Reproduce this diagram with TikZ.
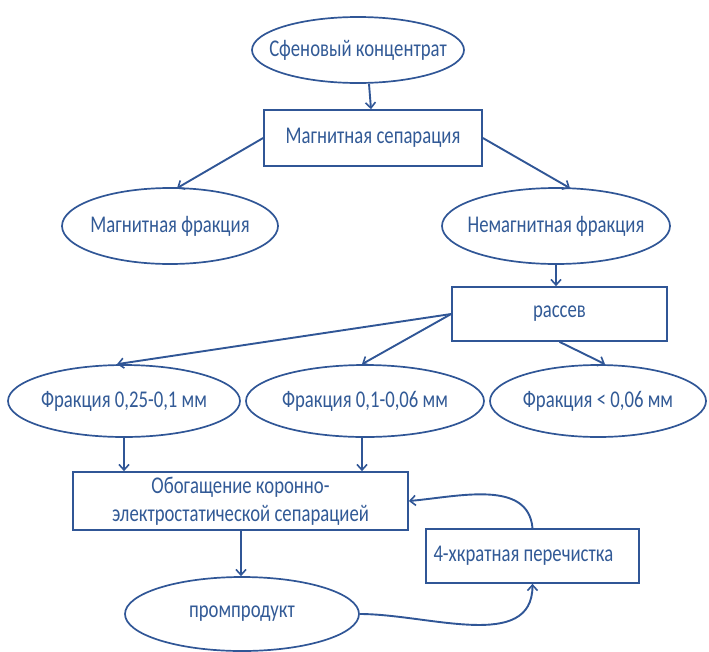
\documentclass[tikz,border=0pt]{standalone}
\usepackage{fontspec}
\setmainfont{Carlito}[FakeStretch=0.78]
\usetikzlibrary{shapes.geometric,arrows.meta,calc}
\definecolor{lineblue}{RGB}{48,86,150}
\definecolor{textblue}{RGB}{50,90,150}
\newcommand{\ctext}[1]{\makebox[0pt][c]{#1}}
\begin{document}
\begin{tikzpicture}[x=1pt,y=-1pt,
  every node/.style={font=\fontsize{24}{28}\selectfont, text=textblue, inner sep=0pt},
  ell/.style={ellipse, draw=lineblue, line width=1.7pt},
  boxn/.style={rectangle, draw=lineblue, line width=1.7pt},
  conn/.style={draw=lineblue, line width=1.9pt, -{Straight Barb[length=5.5pt,width=10pt,line width=1.6pt]}}]
\useasboundingbox (0,0) rectangle (709,651);
\node[ell, minimum width=212, minimum height=66] (top) at (358,50) {\ctext{Сфеновый концентрат}};
\node[boxn, minimum width=218, minimum height=56] (mag) at (373,138) {Магнитная сепарация};
\node[ell, minimum width=216, minimum height=76] (magfr) at (170,226) {\ctext{Магнитная фракция}};
\node[ell, minimum width=228, minimum height=76] (nonmag) at (556,226) {\ctext{Немагнитная фракция}};
\node[boxn, minimum width=215, minimum height=54] (rassev) at (559.5,314) {рассев};
\node[ell, minimum width=232, minimum height=72] (f1) at (124,401) {\ctext{Фракция 0,25-0,1 мм}};
\node[ell, minimum width=238, minimum height=72] (f2) at (365,401) {\ctext{Фракция 0,1-0,06 мм}};
\node[ell, minimum width=216, minimum height=72] (f3) at (598,401) {\ctext{Фракция < 0,06 мм}};
\node[boxn, minimum width=335, minimum height=58, align=center] (obog) at (240.5,501) {Обогащение коронно-\\электростатической сепарацией};
\node[ell, minimum width=234, minimum height=74] (prom) at (242,614) {\ctext{промпродукт}};
\node[boxn, minimum width=213, minimum height=54] (perech) at (532.5,556) {\makebox[198pt][l]{4-хкратная перечистка}};

\coordinate (f2s) at ($(f2.south)+(-3,0)$);
\coordinate (obs) at ($(obog.south)+(0.5,0)$);
\draw[conn] ($(top.south)+(11,0)$) -- ($(mag.north)+(-2,0)$);
\draw[conn] (mag.west) -- ($(magfr.north)+(7,1)$);
\draw[conn] (mag.east) -- ($(nonmag.north)+(14,1)$);
\draw[conn] (nonmag.south) -- (nonmag.south |- rassev.north);
\draw[conn] (rassev.west) -- ($(f1.north)+(-7,0)$);
\draw[conn] (rassev.west) -- ($(f2.north)+(-3,0)$);
\draw[conn] (rassev.south) -- ($(f3.north)+(7,0)$);
\draw[conn] (f1.south) -- (f1.south |- obog.north);
\draw[conn] (f2s) -- (f2s |- obog.north);
\draw[conn] (obs) -- (obs |- prom.north);
\draw[conn] (prom.east) to[out=0,in=-90] (perech.south);
\draw[conn] (perech.north) to[out=95,in=5] (obog.east);
\end{tikzpicture}
\end{document}
